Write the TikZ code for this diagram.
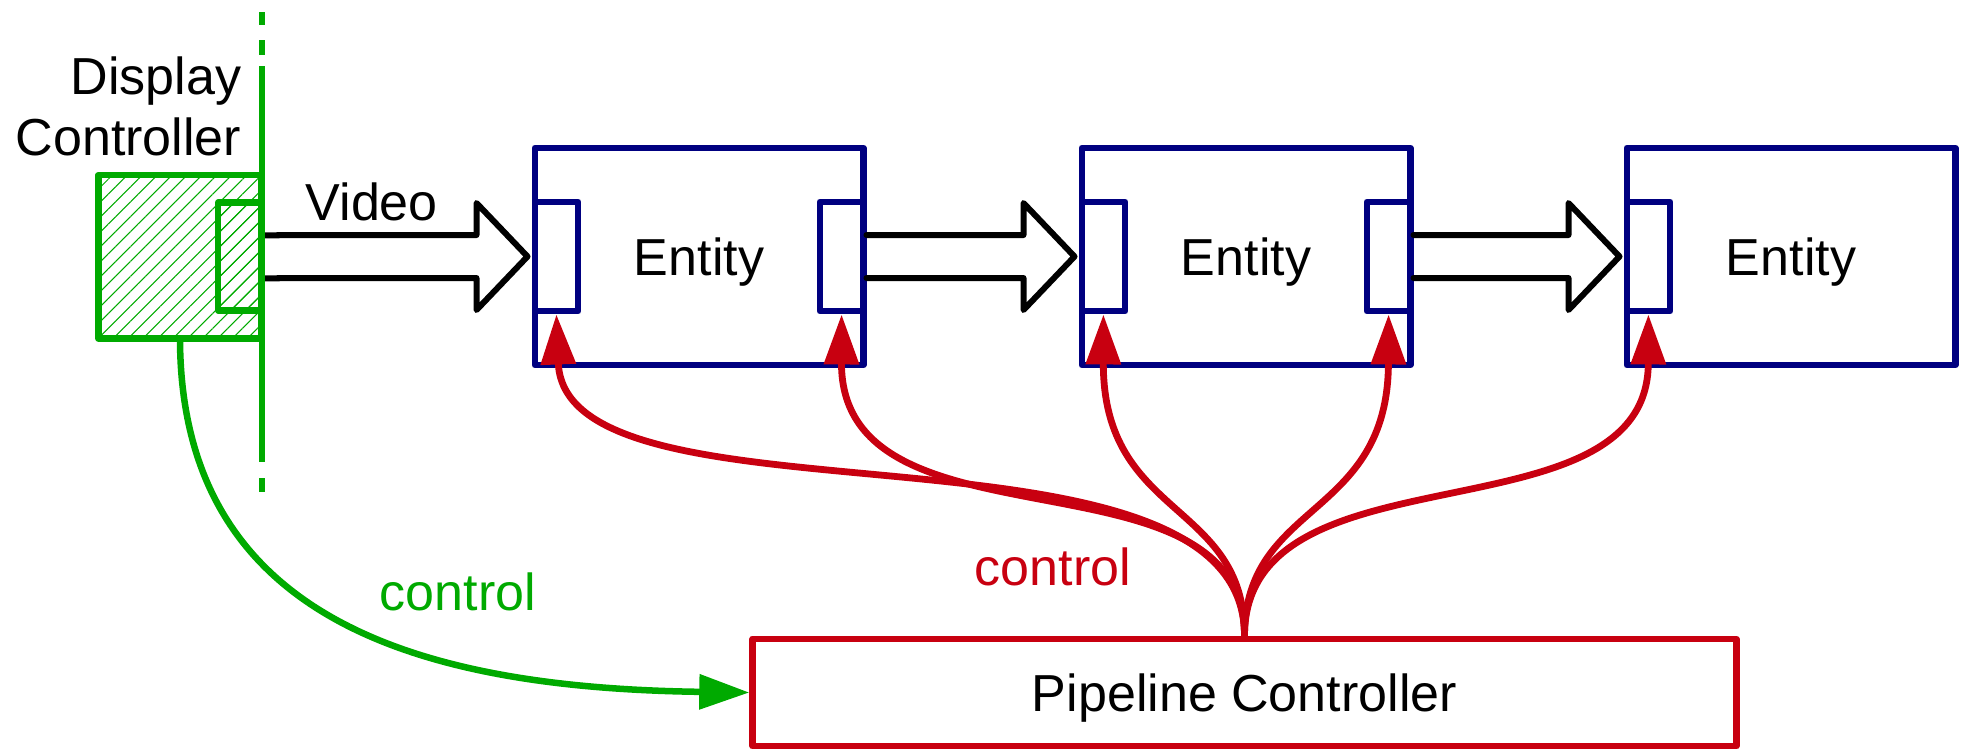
\documentclass[tikz,border=0pt]{standalone}
\usepackage{fontspec}
\setmainfont{Liberation Sans}
\usetikzlibrary{arrows.meta,calc,patterns.meta}
\definecolor{dcgreen}{RGB}{0,170,0}
\definecolor{pcred}{RGB}{200,0,16}
\definecolor{entblue}{RGB}{0,0,128}
\tikzset{
  lbl/.style={font=\fontsize{14.8pt}{17.07pt}\selectfont},
  dcbox/.style={draw=dcgreen, line width=0.065cm, line join=round, inner sep=0pt,
    pattern={Lines[angle=45,distance=3pt,line width=0.3pt]}, pattern color=dcgreen},
  entity/.style={lbl, draw=entblue, line width=0.068cm, line join=round, inner sep=0pt,
    minimum width=3.28cm, minimum height=2.17cm, text depth=0pt},
  port/.style={draw=entblue, fill=white, line width=0.068cm, line join=round, inner sep=0pt,
    minimum width=0.43cm, minimum height=1.09cm},
  flow/.style={line width=0.06cm, line join=round, line cap=round},
  ctrl/.style={draw=pcred, line width=0.068cm, -{Triangle[length=0.5cm, width=0.34cm]}},
  dcctrl/.style={draw=dcgreen, line width=0.065cm, -{Triangle[length=0.5cm, width=0.34cm]}},
}
% hollow block arrow from #1 to #2
\newcommand{\videoarrow}[2]{%
  \draw[flow] ($(#1)+(0,-21.5)$) -- ($(#2)+(-55,-21.5)$) -- ($(#2)+(-55,-53.5)$)
    -- ($(#2)+(-4,0)$) -- ($(#2)+(-55,53.5)$) -- ($(#2)+(-55,21.5)$) -- ($(#1)+(0,21.5)$);}
\begin{document}
\begin{tikzpicture}[x=0.01cm, y=-0.01cm]
\useasboundingbox (0,0) rectangle (1965,750);

% display controller
\node[dcbox, minimum width=1.63cm, minimum height=1.635cm] (dc) at (180,256.75) {};
\node[dcbox, minimum width=0.435cm, minimum height=1.08cm] (dcport) at (240,256.5) {};
\node[lbl, anchor=base east, align=right, inner sep=0pt] (dclabel) at (242,155) {Display\\Controller};

% pipeline
\foreach \i/\x in {1/699, 2/1246, 3/1791}
  \node[entity] (ent\i) at (\x,256.5) {Entity};
\foreach \i in {1,2,3}
  \node[port, anchor=west] (in\i) at (ent\i.west) {};
\foreach \i in {1,2}
  \node[port, anchor=east] (out\i) at (ent\i.east) {};

\node[lbl, draw=pcred, line width=0.068cm, line join=round, inner sep=0pt,
  minimum width=9.83cm, minimum height=1.07cm, text depth=0pt] (pc) at (1244.5,692.5) {Pipeline Controller};

% video
\videoarrow{dc.east}{in1.west}
\videoarrow{out1.east}{in2.west}
\videoarrow{out2.east}{in3.west}
\node[lbl, anchor=base west, inner sep=0pt] (video) at (305,220) {Video};

\draw[dcgreen, line width=0.065cm] (262,12) -- (262,25) (262,40) -- (262,55)
  (262,66) -- (262,462) (262,478) -- (262,492);

% control
\draw[dcctrl] (dc.south) .. controls (181,620) and (420,688) .. (pc.west);
\node[lbl, text=dcgreen, anchor=base, inner sep=0pt] (dcctrl) at (458,610) {control};

\draw[ctrl] (pc.north) .. controls (1245,400) and (565,540) .. (in1.south);
\draw[ctrl] (pc.north) .. controls (1245,440) and (841,560) .. (out1.south);
\draw[ctrl] (pc.north) .. controls (1245,500) and (1103,520) .. (in2.south);
\draw[ctrl] (pc.north) .. controls (1245,500) and (1388,520) .. (out2.south);
\draw[ctrl] (pc.north) .. controls (1245,440) and (1648,545) .. (in3.south);
\node[lbl, text=pcred, anchor=base, inner sep=0pt] (pcctrl) at (1053,585) {control};
\end{tikzpicture}
\end{document}
